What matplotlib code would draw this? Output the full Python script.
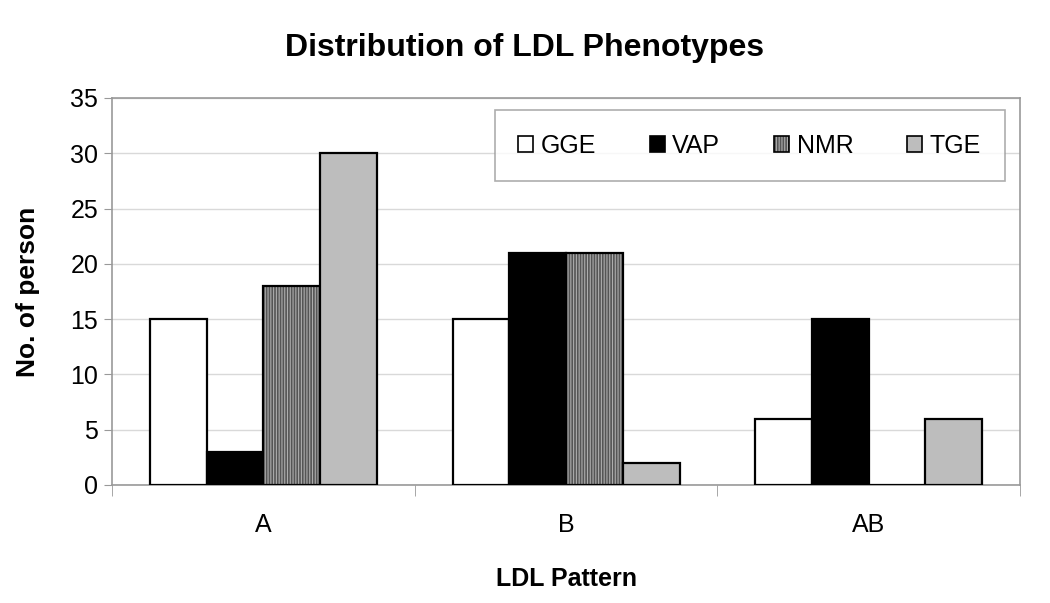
import numpy as np
import matplotlib.pyplot as plt
from matplotlib.ticker import FixedLocator

plt.rcParams['font.family'] = ['Liberation Sans', 'DejaVu Sans']
plt.rcParams['hatch.linewidth'] = 0.8

# Data
categories = ["A", "B", "AB"]
series = ["GGE", "VAP", "NMR", "TGE"]
gge = [15, 15, 6]
vap = [3, 21, 15]
nmr = [18, 21, 0]
tge = [30, 2, 6]
values = [gge, vap, nmr, tge]

colors = ["white", "black", "#555555", "#bdbdbd"]
hatches = [None, None, "||||||", None]

fig = plt.figure(figsize=(10.5, 6.03), dpi=100)
ax = fig.add_axes([0.1067, 0.1957, 0.8648, 0.6418])

x = np.arange(len(categories))
width = 0.1875
for i, (name, vals) in enumerate(zip(series, values)):
    offs = (i - 1.5) * width
    bars = ax.bar(x + offs, vals, width, color=colors[i], edgecolor="black",
                  linewidth=1.6, label=name, hatch=hatches[i], zorder=3)
    if hatches[i]:
        for b in bars:
            b._hatch_color = (0.68, 0.68, 0.68, 1.0)

ax.set_xlim(-0.5, 2.5)
ax.set_ylim(0, 35)
ax.set_yticks(np.arange(0, 36, 5))
ax.set_xticks(x)
ax.set_xticklabels(categories, fontsize=18)
ax.xaxis.set_minor_locator(FixedLocator([-0.5, 0.5, 1.5, 2.5]))
ax.tick_params(axis="x", which="major", length=0, pad=20)
ax.tick_params(axis="x", which="minor", length=8, color="#999999")
ax.tick_params(axis="y", labelsize=18, length=6, color="#999999", pad=4)

ax.grid(axis="y", color="#d9d9d9", linewidth=1.0, zorder=0)
for s in ax.spines.values():
    s.set_color("#999999")
    s.set_linewidth(1.2)

ax.set_xlabel("LDL Pattern", fontsize=18, fontweight="bold", labelpad=22)
ax.set_ylabel("No. of person", fontsize=19, fontweight="bold", labelpad=22)
fig.suptitle("Distribution of LDL Phenotypes", fontsize=23, fontweight="bold",
             x=0.5, y=0.945)

leg = ax.legend(loc="upper right", bbox_to_anchor=(0.983, 0.969), ncol=4,
                fontsize=18, frameon=True, fancybox=False, handlelength=0.6,
                handleheight=0.6, handletextpad=0.3, columnspacing=2.15,
                borderpad=0.95, borderaxespad=0)
leg.get_frame().set_edgecolor("#999999")
leg.get_frame().set_linewidth(1.2)
for h in leg.legend_handles:
    h.set_linewidth(1.2)

fig.savefig("out.png", dpi=100)
